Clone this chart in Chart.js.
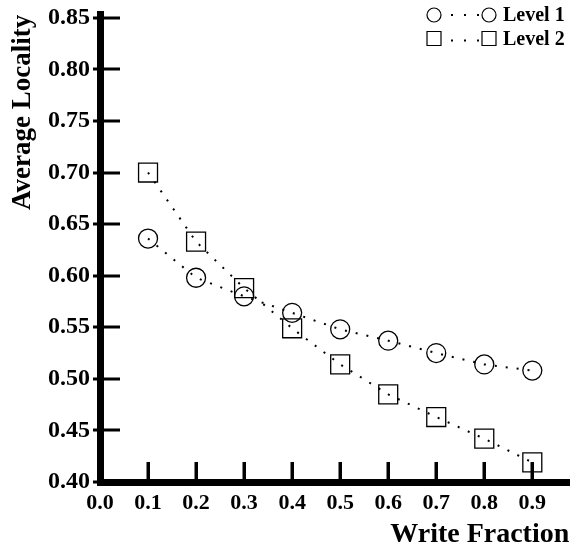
<!DOCTYPE html>
<html>
<head>
<meta charset="utf-8">
<script src="https://cdn.jsdelivr.net/npm/chart.js@4"></script>
<style>
  html, body { margin: 0; padding: 0; background: #fff; overflow: hidden; }
  #clip { width: 570px; height: 554px; overflow: hidden; }
  #wrap { width: 584px; height: 554px; position: relative; }
</style>
</head>
<body>
<div id="clip"><div id="wrap"><canvas id="locality"></canvas></div></div>
<script>
'use strict';

/* --------------------------------------------------------------------------
   DATA
   -------------------------------------------------------------------------- */
const writeFraction = [0.1, 0.2, 0.3, 0.4, 0.5, 0.6, 0.7, 0.8, 0.9];
const level1 = [0.636, 0.598, 0.580, 0.564, 0.548, 0.537, 0.525, 0.514, 0.508];
const level2 = [0.700, 0.633, 0.588, 0.549, 0.514, 0.485, 0.463, 0.442, 0.419];

const xTickValues = [0.0, 0.1, 0.2, 0.3, 0.4, 0.5, 0.6, 0.7, 0.8, 0.9];
const yTickValues = [0.40, 0.45, 0.50, 0.55, 0.60, 0.65, 0.70, 0.75, 0.80, 0.85];
const seriesNames = ['Level 1', 'Level 2'];

const SERIF = '"Liberation Serif", "Times New Roman", serif';

/* --------------------------------------------------------------------------
   PLUGINS — inward tick marks and the marker-dots-marker legend
   -------------------------------------------------------------------------- */
const innerTicks = {
    id: 'innerTicks',
    afterDatasetsDraw(chart) {
        const { ctx, scales: { x, y } } = chart;
        ctx.save();
        ctx.fillStyle = '#000';
        yTickValues.forEach(v => {
            const py = Math.round(y.getPixelForValue(v));
            ctx.fillRect(x.left - 7, py - 1.5, 27, 3);
        });
        xTickValues.slice(1).forEach(v => {
            const px = Math.round(x.getPixelForValue(v));
            ctx.fillRect(px - 1.5, y.bottom - 20, 3.5, 20);
        });
        ctx.restore();
    },
};

const markerLegend = {
    id: 'markerLegend',
    afterDraw(chart) {
        const { ctx } = chart;
        const rows = [
            { style: 'circle', y: 15, textY: 21 },
            { style: 'rect', y: 38.5, textY: 45 },
        ];
        ctx.save();
        ctx.strokeStyle = '#000';
        ctx.fillStyle = '#000';
        ctx.lineWidth = 1.2;
        rows.forEach((row, i) => {
            [434, 489].forEach(cx => {
                ctx.beginPath();
                if (row.style === 'circle') ctx.arc(cx, row.y, 7, 0, Math.PI * 2);
                else ctx.rect(cx - 7, row.y - 7, 14, 14);
                ctx.stroke();
            });
            [452, 465, 478].forEach(dx => ctx.fillRect(dx - 1, row.y + (i ? 2 : 0) - 1, 2, 2));
            ctx.font = 'bold 20px ' + SERIF;
            ctx.textBaseline = 'alphabetic';
            ctx.textAlign = 'left';
            ctx.fillText(seriesNames[i], 503, row.textY);
        });
        ctx.restore();
    },
};

/* --------------------------------------------------------------------------
   CHART
   -------------------------------------------------------------------------- */
const toPoints = ys => writeFraction.map((x, i) => ({ x, y: ys[i] }));

const lineStyle = {
    borderColor: '#000',
    borderWidth: 2,
    borderDash: [2, 9],
    pointBackgroundColor: 'rgba(0,0,0,0)',
    pointBorderColor: '#000',
    pointBorderWidth: 1.3,
    fill: false,
    tension: 0,
    clip: false,
};

new Chart(document.getElementById('locality').getContext('2d'), {
    type: 'line',
    data: {
        datasets: [
            { ...lineStyle, label: seriesNames[0], data: toPoints(level1), pointStyle: 'circle', pointRadius: 9.5 },
            { ...lineStyle, label: seriesNames[1], data: toPoints(level2), pointStyle: 'rect', pointRadius: 13.4 },
        ],
    },
    options: {
        responsive: true,
        maintainAspectRatio: false,
        animation: false,
        layout: { padding: { top: 13, left: 0, right: 0, bottom: 0 } },
        plugins: {
            legend: { display: false },
            tooltip: { enabled: false },
        },
        scales: {
            x: {
                type: 'linear',
                min: 0,
                max: 0.977,
                afterFit: s => { s.height = 72; s.paddingLeft = 0; s.paddingRight = 0; },
                afterBuildTicks: s => { s.ticks = xTickValues.map(value => ({ value })); },
                grid: { display: false, drawTicks: false },
                border: { display: true, color: '#000', width: 7 },
                ticks: {
                    autoSkip: false,
                    maxRotation: 0,
                    padding: 8,
                    color: '#000',
                    font: { family: SERIF, size: 22, weight: 'bold' },
                    callback: v => v.toFixed(1),
                },
                title: {
                    display: true,
                    text: 'Write Fraction',
                    align: 'end',
                    color: '#000',
                    padding: { top: 0, bottom: 2 },
                    font: { family: SERIF, size: 28, weight: 'bold' },
                },
            },
            y: {
                min: 0.40,
                max: 0.853,
                afterFit: s => { s.width = 100; s.paddingTop = 0; s.paddingBottom = 0; },
                afterBuildTicks: s => { s.ticks = yTickValues.map(value => ({ value })); },
                grid: { display: false, drawTicks: false },
                border: { display: true, color: '#000', width: 7 },
                ticks: {
                    autoSkip: false,
                    padding: 10,
                    color: '#000',
                    font: { family: SERIF, size: 24, weight: 'bold' },
                    callback: v => v.toFixed(2),
                },
                title: {
                    display: true,
                    text: 'Average Locality',
                    align: 'end',
                    color: '#000',
                    padding: { top: 7, bottom: 0 },
                    font: { family: SERIF, size: 27, weight: 'bold' },
                },
            },
        },
    },
    plugins: [innerTicks, markerLegend],
});
</script>
</body>
</html>
